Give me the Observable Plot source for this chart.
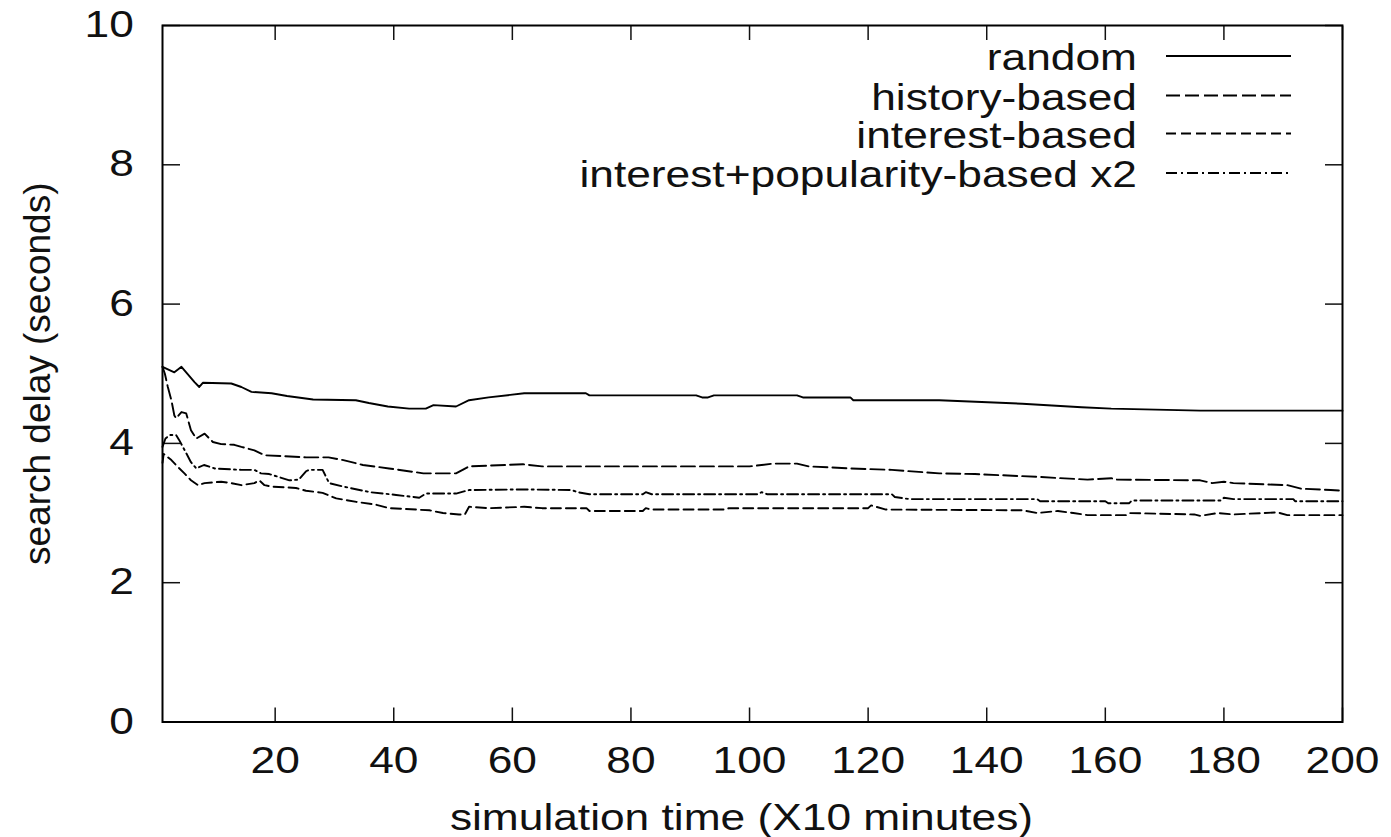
<!DOCTYPE html>
<html>
<head>
<meta charset="utf-8">
<script src="https://cdn.jsdelivr.net/npm/d3@7"></script>
<script src="https://cdn.jsdelivr.net/npm/@observablehq/plot@0.6"></script>
<style>
  html, body { margin: 0; padding: 0; background: #fff; }
  #chart { width: 1391px; height: 837px; }
</style>
</head>
<body>
<div id="chart"></div>
<script>
// ---- data ----
const seriesNames = ["random", "history-based", "interest-based", "interest+popularity-based x2"];

const randomX = [1, 3.0, 4.2, 6.4, 7.2, 7.8, 12.6, 14.3, 16, 19.4, 22, 26.4, 33.6, 35.8, 39, 42.6, 45.4, 46.7, 50.5, 52.7, 56, 62, 72.4, 73, 91, 92, 93, 94, 108, 109, 117, 117.5, 132, 146, 156, 161, 176, 200];
const randomY = [5.10, 5.02, 5.10, 4.88, 4.81, 4.87, 4.86, 4.81, 4.74, 4.72, 4.68, 4.63, 4.62, 4.58, 4.53, 4.50, 4.50, 4.55, 4.53, 4.62, 4.66, 4.72, 4.72, 4.69, 4.69, 4.66, 4.66, 4.69, 4.69, 4.66, 4.66, 4.62, 4.62, 4.57, 4.52, 4.50, 4.47, 4.47];

const historyX = [1, 1.4, 1.9, 2.5, 3.0, 3.3, 4.2, 5.0, 5.8, 6.7, 8.1, 9.5, 10.9, 13.1, 14.3, 16.5, 18.2, 25.2, 29, 31.5, 34.8, 39.2, 45, 50.5, 52.7, 61.8, 65, 100, 104, 108, 110, 117, 124, 132, 138, 148.5, 157, 161, 162, 176, 178, 180, 181.6, 190.7, 193, 198, 200];
const historyY = [5.10, 5.00, 4.81, 4.62, 4.40, 4.36, 4.45, 4.43, 4.19, 4.07, 4.14, 4.02, 3.99, 3.98, 3.95, 3.90, 3.83, 3.80, 3.80, 3.76, 3.69, 3.64, 3.57, 3.57, 3.67, 3.70, 3.67, 3.67, 3.71, 3.71, 3.67, 3.64, 3.62, 3.57, 3.56, 3.52, 3.48, 3.50, 3.48, 3.47, 3.43, 3.45, 3.43, 3.40, 3.35, 3.33, 3.32];

const interestX = [1, 1.2, 1.6, 2.5, 3.6, 4.7, 5.8, 7, 8.1, 10.9, 12.6, 14.3, 16.5, 17.3, 18.2, 19.4, 23.5, 25.2, 28, 30.3, 33.7, 37, 39.2, 46, 48.3, 51, 52, 52.7, 56, 62, 65, 72.5, 73, 82, 82.5, 83.4, 96, 96.5, 102, 120, 120.5, 123, 146, 148.5, 152, 154.6, 157, 163.5, 164, 175, 176, 179, 181.6, 189, 190.7, 200];
const interestY = [3.72, 3.85, 3.82, 3.76, 3.66, 3.57, 3.47, 3.40, 3.43, 3.45, 3.43, 3.40, 3.43, 3.47, 3.40, 3.38, 3.36, 3.32, 3.29, 3.21, 3.16, 3.12, 3.07, 3.04, 3.00, 2.98, 2.98, 3.09, 3.07, 3.09, 3.07, 3.07, 3.03, 3.03, 3.07, 3.05, 3.05, 3.07, 3.07, 3.07, 3.11, 3.05, 3.04, 3.00, 3.03, 3.00, 2.97, 2.97, 3.00, 2.98, 2.96, 3.00, 2.98, 3.01, 2.97, 2.97];

const popularityX = [1, 1.5, 2.2, 3.3, 3.8, 5, 5.8, 6.7, 8, 9.8, 14.3, 16.5, 17.6, 19, 22.4, 24, 25.2, 25.7, 28, 29.1, 31.5, 36, 40.4, 44.3, 45.4, 50.5, 52.7, 61.8, 70, 71, 73, 82, 82.5, 83.5, 101.5, 102, 103, 124, 124.5, 127, 148.5, 149, 160, 160.5, 164, 164.5, 179.5, 180, 181.6, 191.7, 192, 200];
const popularityY = [3.95, 4.07, 4.12, 4.12, 4.05, 3.86, 3.73, 3.64, 3.69, 3.64, 3.62, 3.62, 3.57, 3.56, 3.47, 3.48, 3.60, 3.62, 3.62, 3.43, 3.38, 3.30, 3.26, 3.22, 3.28, 3.28, 3.33, 3.34, 3.33, 3.30, 3.27, 3.27, 3.30, 3.27, 3.27, 3.30, 3.27, 3.27, 3.23, 3.20, 3.20, 3.17, 3.17, 3.14, 3.14, 3.18, 3.18, 3.22, 3.20, 3.20, 3.17, 3.17];

const xTicks = [20, 40, 60, 80, 100, 120, 140, 160, 180, 200];
const yTicks = [0, 2, 4, 6, 8, 10];
const xLabel = "simulation time (X10 minutes)";
const yLabel = "search delay (seconds)";

// ---- styling ----
const FONT = "'Liberation Sans', Arial, Helvetica, sans-serif";
const INK = "#111";
const dashes = [null, "14,5", "10,5", "11,4,2,4"];
const STRETCH = 1.23; // the reference's lettering is wide

const xs = [randomX, historyX, interestX, popularityX];
const ys = [randomY, historyY, interestY, popularityY];
const series = seriesNames.map((name, i) => xs[i].map((x, j) => ({series: name, x, y: ys[i][j]})));

function legendMark(index, scales, values, dim) {
  const g = d3.create("svg:g")
    .attr("font-family", FONT).attr("font-size", 36).attr("fill", INK);
  const right = dim.width - dim.marginRight;
  const rowOffsets = [31, 70.5, 108.5, 148];
  seriesNames.forEach((name, i) => {
    const y = dim.marginTop + rowOffsets[i];
    g.append("text")
      .attr("x", right - 205).attr("y", y + 14)
      .attr("text-anchor", "end").text(name);
    const ln = g.append("line")
      .attr("x1", right - 176).attr("x2", right - 51)
      .attr("y1", y).attr("y2", y)
      .attr("stroke", "#000").attr("stroke-width", 1.8);
    if (dashes[i]) ln.attr("stroke-dasharray", dashes[i]);
  });
  return g.node();
}

const plot = Plot.plot({
  width: 1391,
  height: 837,
  marginLeft: 162,
  marginRight: 49,
  marginTop: 25,
  marginBottom: 115.5,
  style: {fontFamily: FONT, fontSize: "36px", color: INK, background: "#fff"},
  x: {domain: [1, 200], axis: null},
  y: {domain: [0, 10], axis: null},
  marks: [
    Plot.axisX({ticks: xTicks, tickSize: -14, tickPadding: 39.4, strokeWidth: 1.5, label: null}),
    Plot.axisX({anchor: "top", ticks: xTicks, tickSize: -14, strokeWidth: 1.5, fill: "none", label: null}),
    Plot.axisY({ticks: yTicks, tickSize: -18, tickPadding: 46.7, strokeWidth: 1.5, label: null}),
    Plot.axisY({anchor: "right", ticks: yTicks, tickSize: -18, strokeWidth: 1.5, fill: "none", label: null}),
    ...series.map((data, i) => Plot.line(data, {
      x: "x", y: "y", stroke: "#000", strokeWidth: 1.9,
      strokeDasharray: dashes[i] ?? undefined
    })),
    Plot.frame({stroke: "#000", strokeWidth: 2}),
    Plot.text([xLabel], {frameAnchor: "bottom", text: d => d, dy: 96, dx: -11, lineAnchor: "middle", fontSize: 36, fill: INK}),
    Plot.text([yLabel], {frameAnchor: "left", text: d => d, rotate: -90, dx: -124, textAnchor: "middle", lineAnchor: "middle", fontSize: 37, fill: INK}),
    legendMark
  ]
});

document.getElementById("chart").append(plot);

// widen horizontal lettering to match the reference's wide face (rotated label untouched)
plot.querySelectorAll("text").forEach(t => {
  const tr = t.getAttribute("transform") || "";
  if (tr.includes("rotate")) return;
  const L = t.getComputedTextLength();
  if (L > 0) {
    t.setAttribute("textLength", (L * STRETCH).toFixed(2));
    t.setAttribute("lengthAdjust", "spacingAndGlyphs");
  }
});
</script>
</body>
</html>
